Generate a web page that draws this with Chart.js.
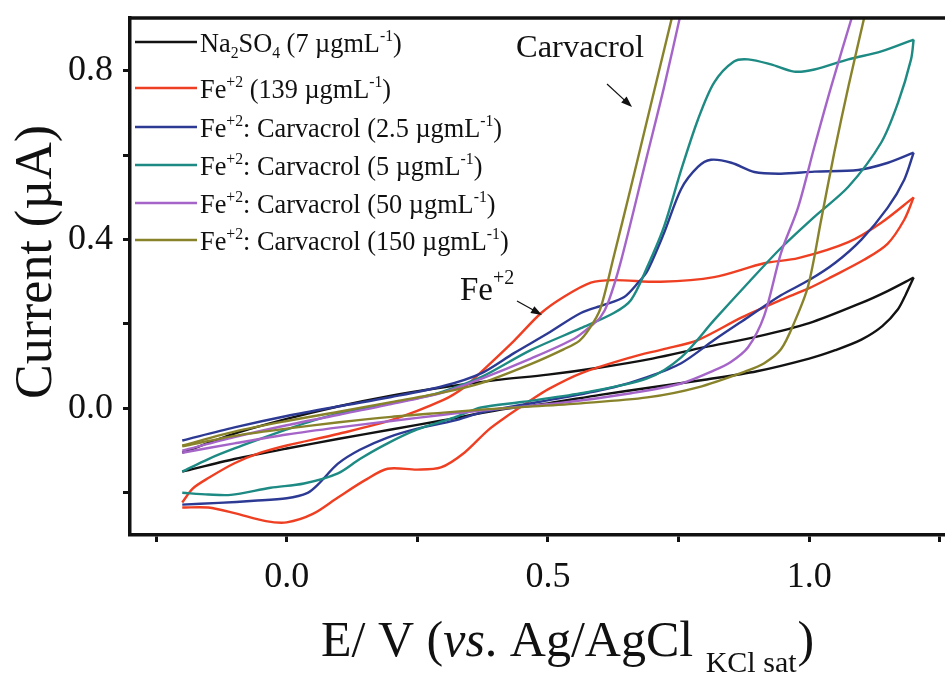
<!DOCTYPE html>
<html><head><meta charset="utf-8">
<script src="https://cdn.jsdelivr.net/npm/chart.js@4.4.1/dist/chart.umd.min.js"></script>
<style>html,body{margin:0;padding:0;background:#fff;}</style>
</head><body>
<canvas id="c" width="945" height="678"></canvas>
<script>
// ---- tick labels ----
const xMajorTicks = [0.0, 0.5, 1.0];
const xTickLabels = ['0.0', '0.5', '1.0'];
const yMajorTicks = [0.0, 0.4, 0.8];
const yTickLabels = ['0.0', '0.4', '0.8'];

// ---- series names ----
const seriesNames = [
  'Na2SO4 (7 µgmL-1)', 'Fe+2 (139 µgmL-1)', 'Fe+2: Carvacrol (2.5 µgmL-1)',
  'Fe+2: Carvacrol (5 µgmL-1)', 'Fe+2: Carvacrol (50 µgmL-1)', 'Fe+2: Carvacrol (150 µgmL-1)'
];

// ---- data: [E (V), I (µA)] , forward (anodic) and reverse scans ----
const na2so4Fwd = [[-0.2,-0.105],[-0.1,-0.06],[0.0,-0.025],[0.1,0.005],[0.2,0.03],[0.3,0.05],[0.4,0.067],[0.5,0.08],[0.6,0.097],[0.7,0.118],[0.8,0.145],[0.9,0.17],[1.0,0.202],[1.1,0.25],[1.15,0.278],[1.2,0.31]];
const na2so4Rev = [[1.2,0.31],[1.185,0.27],[1.17,0.235],[1.14,0.195],[1.1,0.163],[1.05,0.138],[1.0,0.118],[0.9,0.088],[0.8,0.068],[0.7,0.05],[0.6,0.032],[0.5,0.012],[0.4,-0.005],[0.3,-0.028],[0.2,-0.05],[0.1,-0.072],[0.0,-0.095],[-0.1,-0.12],[-0.2,-0.15]];

const feFwd = [[-0.2,-0.223],[-0.18,-0.19],[-0.15,-0.165],[-0.1,-0.13],[-0.05,-0.105],[0.0,-0.088],[0.1,-0.06],[0.2,-0.028],[0.3,0.02],[0.34,0.05],[0.372,0.086],[0.435,0.16],[0.487,0.226],[0.53,0.264],[0.582,0.298],[0.626,0.304],[0.716,0.3],[0.818,0.311],[0.914,0.344],[0.979,0.356],[1.075,0.394],[1.138,0.44],[1.2,0.5]];
const feRev = [[1.2,0.5],[1.182,0.447],[1.15,0.39],[1.105,0.352],[1.042,0.311],[1.0,0.285],[0.946,0.257],[0.87,0.215],[0.787,0.162],[0.72,0.14],[0.659,0.121],[0.563,0.083],[0.5,0.045],[0.467,0.019],[0.42,-0.02],[0.385,-0.052],[0.34,-0.105],[0.295,-0.14],[0.25,-0.145],[0.193,-0.143],[0.15,-0.17],[0.098,-0.211],[0.05,-0.25],[0.0,-0.27],[-0.04,-0.267],[-0.1,-0.248],[-0.15,-0.235],[-0.2,-0.235]];

const car25Fwd = [[-0.2,-0.076],[-0.1,-0.045],[0.0,-0.018],[0.1,0.005],[0.2,0.027],[0.3,0.053],[0.372,0.083],[0.435,0.131],[0.5,0.178],[0.563,0.226],[0.607,0.245],[0.646,0.264],[0.672,0.297],[0.69,0.325],[0.722,0.415],[0.755,0.52],[0.787,0.572],[0.812,0.589],[0.851,0.582],[0.895,0.56],[0.946,0.556],[1.01,0.561],[1.094,0.565],[1.151,0.582],[1.2,0.606]];
const car25Rev = [[1.2,0.606],[1.182,0.542],[1.15,0.475],[1.1,0.4],[1.05,0.345],[1.0,0.304],[0.946,0.268],[0.883,0.216],[0.818,0.162],[0.755,0.107],[0.69,0.074],[0.626,0.05],[0.531,0.026],[0.435,0.005],[0.372,-0.01],[0.32,-0.029],[0.25,-0.048],[0.193,-0.069],[0.14,-0.098],[0.098,-0.131],[0.06,-0.18],[0.04,-0.2],[0.0,-0.213],[-0.063,-0.219],[-0.13,-0.224],[-0.2,-0.228]];

const car5Fwd = [[-0.2,-0.15],[-0.15,-0.12],[-0.1,-0.095],[0.0,-0.05],[0.04,-0.033],[0.1,-0.012],[0.2,0.013],[0.257,0.026],[0.3,0.04],[0.372,0.074],[0.467,0.138],[0.563,0.19],[0.626,0.226],[0.659,0.257],[0.69,0.335],[0.722,0.43],[0.755,0.565],[0.787,0.684],[0.818,0.772],[0.856,0.822],[0.883,0.827],[0.927,0.815],[0.971,0.798],[1.01,0.803],[1.075,0.827],[1.138,0.846],[1.2,0.874]];
const car5Rev = [[1.2,0.874],[1.195,0.827],[1.17,0.724],[1.138,0.63],[1.075,0.525],[1.01,0.454],[0.946,0.38],[0.883,0.297],[0.818,0.209],[0.755,0.121],[0.69,0.071],[0.563,0.036],[0.45,0.015],[0.372,0.002],[0.32,-0.022],[0.25,-0.05],[0.193,-0.083],[0.14,-0.12],[0.098,-0.154],[0.033,-0.178],[-0.031,-0.188],[-0.107,-0.205],[-0.15,-0.204],[-0.2,-0.2]];

const car50Fwd = [[-0.2,-0.1],[-0.1,-0.068],[0.0,-0.04],[0.1,-0.015],[0.2,0.01],[0.3,0.038],[0.372,0.07],[0.467,0.118],[0.55,0.165],[0.582,0.195],[0.6,0.215],[0.615,0.25],[0.64,0.35],[0.69,0.6],[0.722,0.76],[0.755,0.94]];
const car50Rev = [[1.085,0.94],[1.042,0.762],[1.01,0.62],[0.979,0.477],[0.946,0.368],[0.914,0.22],[0.883,0.145],[0.85,0.11],[0.818,0.09],[0.755,0.059],[0.659,0.036],[0.531,0.014],[0.372,-0.005],[0.3,-0.015],[0.2,-0.03],[0.1,-0.045],[0.0,-0.062],[-0.1,-0.083],[-0.2,-0.105]];

const car150Fwd = [[-0.2,-0.088],[-0.1,-0.055],[0.0,-0.03],[0.1,-0.008],[0.2,0.015],[0.3,0.038],[0.372,0.06],[0.467,0.105],[0.53,0.14],[0.56,0.16],[0.58,0.19],[0.6,0.235],[0.626,0.36],[0.659,0.525],[0.69,0.684],[0.74,0.94]];
const car150Rev = [[1.108,0.94],[1.075,0.762],[1.048,0.606],[1.023,0.447],[0.998,0.29],[0.971,0.202],[0.946,0.14],[0.914,0.107],[0.883,0.09],[0.787,0.05],[0.69,0.026],[0.563,0.012],[0.45,0.003],[0.372,-0.003],[0.3,-0.01],[0.2,-0.02],[0.1,-0.033],[0.0,-0.048],[-0.1,-0.065],[-0.2,-0.09]];

const colors = ['#121212', '#ef3f22', '#2d3a94', '#1d8a83', '#a565c8', '#88832a'];
const curves = [
  [na2so4Fwd, na2so4Rev], [feFwd, feRev], [car25Fwd, car25Rev],
  [car5Fwd, car5Rev], [car50Fwd, car50Rev], [car150Fwd, car150Rev]
];

const FONT = '"Liberation Serif", "Times New Roman", serif';
Chart.defaults.font.family = FONT;

const datasets = [];
curves.forEach((c, i) => {
  c.forEach((part, j) => {
    datasets.push({
      label: seriesNames[i] + (j ? ' (reverse)' : ''),
      data: part.map(p => ({x: p[0], y: p[1]})),
      borderColor: colors[i], backgroundColor: colors[i],
      borderWidth: 2.4, pointRadius: 0, tension: 0.3, fill: false,
      order: 6 - i
    });
  });
});

function drawRich(ctx, x, y, segs, size) {
  let cx = x;
  for (const s of segs) {
    let fs = size, dy = 0;
    if (s.sup) { fs = size * 0.6; dy = -size * 0.42; }
    if (s.sub) { fs = size * 0.6; dy = size * 0.24; }
    if (s.size) fs = s.size;
    if (s.dy != null) dy = s.dy;
    ctx.font = (s.italic ? 'italic ' : '') + fs + 'px ' + FONT;
    ctx.fillText(s.t, cx, y + dy);
    cx += ctx.measureText(s.t).width + (s.gap || 0);
  }
  return cx;
}

const legendRich = [
  [{t:'Na'},{t:'2',sub:1},{t:'SO'},{t:'4',sub:1},{t:' (7 µgmL'},{t:'-1',sup:1},{t:')'}],
  [{t:'Fe'},{t:'+2',sup:1},{t:' (139 µgmL'},{t:'-1',sup:1},{t:')'}],
  [{t:'Fe'},{t:'+2',sup:1},{t:': Carvacrol (2.5 µgmL'},{t:'-1',sup:1},{t:')'}],
  [{t:'Fe'},{t:'+2',sup:1},{t:': Carvacrol (5 µgmL'},{t:'-1',sup:1},{t:')'}],
  [{t:'Fe'},{t:'+2',sup:1},{t:': Carvacrol (50 µgmL'},{t:'-1',sup:1},{t:')'}],
  [{t:'Fe'},{t:'+2',sup:1},{t:': Carvacrol (150 µgmL'},{t:'-1',sup:1},{t:')'}]
];
const legendRowY = [42, 88, 127, 165, 203, 240];

function arrow(ctx, x1, y1, x2, y2) {
  const a = Math.atan2(y2 - y1, x2 - x1);
  ctx.save();
  ctx.strokeStyle = '#111'; ctx.fillStyle = '#111'; ctx.lineWidth = 1.2;
  ctx.beginPath(); ctx.moveTo(x1, y1); ctx.lineTo(x2 - 8 * Math.cos(a), y2 - 8 * Math.sin(a)); ctx.stroke();
  ctx.beginPath();
  ctx.moveTo(x2, y2);
  ctx.lineTo(x2 - 11 * Math.cos(a) + 4 * Math.sin(a), y2 - 11 * Math.sin(a) - 4 * Math.cos(a));
  ctx.lineTo(x2 - 11 * Math.cos(a) - 4 * Math.sin(a), y2 - 11 * Math.sin(a) + 4 * Math.cos(a));
  ctx.closePath(); ctx.fill();
  ctx.restore();
}

const decor = {
  id: 'decor',
  afterDraw(chart) {
    const ctx = chart.ctx, ca = chart.chartArea;
    ctx.save();
    // top frame
    ctx.strokeStyle = '#111'; ctx.lineWidth = 3.5;
    ctx.beginPath(); ctx.moveTo(ca.left - 1.5, ca.top); ctx.lineTo(ca.right + 2, ca.top); ctx.stroke();
    // legend
    ctx.fillStyle = '#111'; ctx.textBaseline = 'alphabetic'; ctx.textAlign = 'left';
    legendRich.forEach((segs, i) => {
      const y = legendRowY[i];
      ctx.strokeStyle = colors[i]; ctx.lineWidth = 2.4;
      ctx.beginPath(); ctx.moveTo(135, y); ctx.lineTo(197, y); ctx.stroke();
      ctx.fillStyle = '#111';
      drawRich(ctx, 200, y + 10, segs, 26.3);
    });
    // annotations
    drawRich(ctx, 516, 57, [{t:'Carvacrol'}], 32.5);
    arrow(ctx, 607, 84, 632, 107);
    drawRich(ctx, 460, 300, [{t:'Fe'},{t:'+2',size:20,dy:-16}], 33);
    arrow(ctx, 517, 301, 542, 315);
    // x title
    drawRich(ctx, 321, 656, [
      {t:'E/ V ('},{t:'vs',italic:1},{t:'. Ag/AgCl '},
      {t:'KCl sat',size:30,dy:16,gap:1},{t:')'}
    ], 50);
    // y title
    ctx.save();
    ctx.translate(51, 262); ctx.rotate(-Math.PI / 2);
    ctx.textAlign = 'center';
    ctx.font = '52px ' + FONT;
    ctx.fillText('Current (µA)', 0, 0);
    ctx.restore();
    ctx.restore();
  }
};

const noPad = s => { s.paddingTop = 0; s.paddingBottom = 0; s.paddingLeft = 0; s.paddingRight = 0; };

new Chart(document.getElementById('c'), {
  type: 'line',
  data: { datasets },
  options: {
    responsive: false, animation: false,
    layout: { padding: { top: 18, left: 0, right: 0, bottom: 0 } },
    plugins: { legend: { display: false }, tooltip: { enabled: false } },
    scales: {
      x: {
        type: 'linear', min: -0.3, max: 1.26,
        afterFit: s => { s.height = 143; noPad(s); },
        border: { display: true, color: '#111', width: 3.5 },
        grid: { drawOnChartArea: false, drawTicks: true, tickLength: 7, tickWidth: 3, tickColor: '#111' },
        ticks: {
          stepSize: 0.25, includeBounds: false, autoSkip: false, maxRotation: 0,
          color: '#111', font: { size: 36, family: FONT }, padding: 14,
          callback: v => { const k = xMajorTicks.findIndex(m => Math.abs(m - v) < 1e-6); return k >= 0 ? xTickLabels[k] : ''; }
        }
      },
      y: {
        type: 'linear', min: -0.3, max: 0.925,
        afterFit: s => { s.width = 130; noPad(s); },
        border: { display: true, color: '#111', width: 3.5 },
        grid: { drawOnChartArea: false, drawTicks: true, tickLength: 7, tickWidth: 3, tickColor: '#111' },
        ticks: {
          stepSize: 0.2, includeBounds: false, autoSkip: false,
          color: '#111', font: { size: 36, family: FONT }, padding: 10,
          callback: v => { const k = yMajorTicks.findIndex(m => Math.abs(m - v) < 1e-6); return k >= 0 ? yTickLabels[k] : ''; }
        }
      }
    }
  },
  plugins: [decor]
});
</script>
</body></html>
